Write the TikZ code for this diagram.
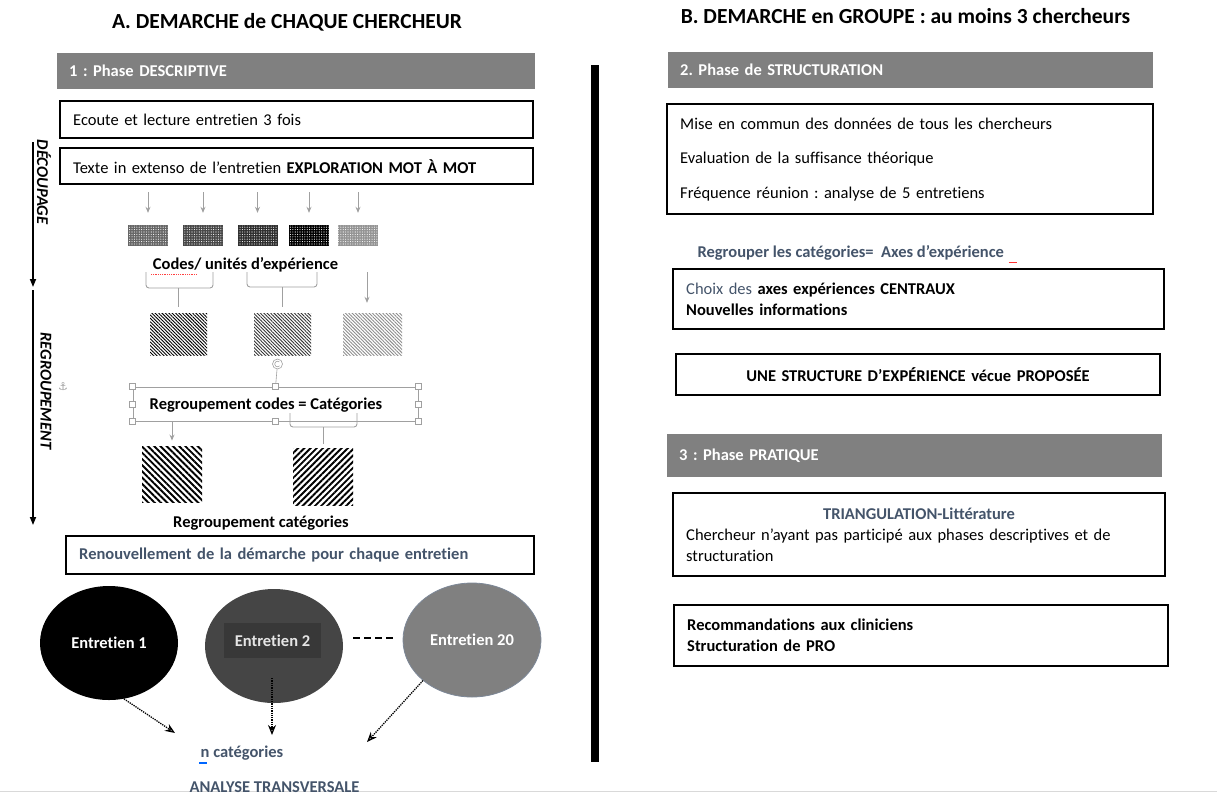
\documentclass[tikz,border=0pt]{standalone}
\usepackage{fontspec}
\setmainfont{Carlito}[Ligatures=NoCommon]
\newfontfamily\symfont{DejaVu Sans}
\usetikzlibrary{arrows.meta, shapes.geometric, positioning, patterns.meta}
\frenchspacing

\definecolor{phasegray}{HTML}{808080}
\definecolor{slate}{HTML}{44546A}
\definecolor{guidegray}{HTML}{A0A0A0}

\newcommand{\bodysize}{\fontsize{16.5}{21}\selectfont}
\newcommand{\titlesize}{\fontsize{21.5}{26}\selectfont}

\tikzset{
  phasebar/.style={fill=phasegray, text=white, font=\bodysize\bfseries, anchor=north west, align=left, inner xsep=12pt, minimum height=36pt},
  textbox/.style={draw, line width=2.4pt, font=\bodysize, anchor=north west, align=left, inner xsep=13pt},
  codebox/.style={minimum width=40pt, minimum height=21pt, inner sep=0pt, postaction={pattern={Dots[distance=2.4pt, radius=0.55pt]}, pattern color=white}},
  finehatch/.style={minimum width=57pt, minimum height=42pt, inner sep=0pt, pattern={Lines[angle=-45, distance=2.4pt, line width=0.9pt]}},
  boldhatch/.style={minimum width=60pt, minimum height=56pt, inner sep=0pt, pattern={Lines[angle=#1, distance=4.4pt, line width=1.9pt]}},
  guide/.style={guidegray, line width=0.9pt, -{Stealth[length=6pt, width=5pt]}},
  bracket/.style={guidegray, line width=0.9pt, rounded corners=3pt},
  handle/.style={draw=guidegray, fill=white, line width=0.6pt, minimum size=6pt, inner sep=0pt},
  entretien/.style={ellipse, minimum width=138pt, minimum height=114pt, inner sep=0pt, text=white, font=\bodysize\bfseries},
  dotarrow/.style={densely dotted, line width=1.3pt, -{Stealth[open, length=10pt, width=8pt]}},
  sidearrow/.style={line width=1.6pt, -{Triangle[length=8pt, width=6pt]}},
  sidelabel/.style={rotate=-90, font=\bodysize\bfseries\itshape}
}

\begin{document}
\begin{tikzpicture}[x=1pt, y=-1pt]
\useasboundingbox (0,0) rectangle (1217,796);
\draw[black!15, line width=1pt] (0,791) -- (1217,791);

\node[font=\titlesize\bfseries] (titleA) at (287,22) {A. DEMARCHE de CHAQUE CHERCHEUR};
\node[font=\titlesize\bfseries] (titleB) at (905.5,16) {B. DEMARCHE en GROUPE : au moins 3 chercheurs};

\draw[line width=8pt] (595,65) -- (595,762);

\node[phasebar, text width=454pt] (phase1) at (57,53) {1 : Phase DESCRIPTIVE};
\node[textbox, text width=447pt, minimum height=37pt] (ecoute) at (59,100) {Ecoute et lecture entretien 3 fois};
\node[textbox, text width=447pt, minimum height=36pt] (texte) at (59,147) {Texte in extenso de l’entretien \textbf{EXPLORATION MOT À MOT}};

\coordinate (dtop) at (33,142);
\coordinate (dbot) at (33,287);
\coordinate (rtop) at (33,290);
\coordinate (rbot) at (33,525);
\draw[sidearrow] (dtop) -- (dbot);
\draw[sidearrow] (rtop) -- (rbot);
\node[sidelabel] (decoupage) at (44,182) {DÉCOUPAGE};
\node[sidelabel] (regroupement) at (46,391) {REGROUPEMENT};
\node[text=guidegray, font=\symfont\fontsize{11}{11}\selectfont] (anc) at (63,387) {⚓};

\node[codebox, fill=black!60] (c1) at (148,235.5) {};
\node[codebox, fill=black!72] (c2) at (203,235.5) {};
\node[codebox, fill=black!82] (c3) at (257.5,235.5) {};
\node[codebox, fill=black] (c4) at (309,235.5) {};
\node[codebox, fill=black!42] (c5) at (358,235.5) {};
\foreach \i in {1,...,5}
  \draw[guide, shorten <=7pt, shorten >=12pt] (texte.south -| c\i) -- (c\i.north);

\node[font=\bodysize\bfseries] (codes) at (245.5,265) {Codes/ unités d’expérience};
\draw[red!75, densely dotted, line width=0.8pt] (151,274) -- (197,274);

\node[finehatch, pattern color=black] (h1) at (178.5,334) {};
\node[finehatch, pattern color=black!80] (h2) at (282.5,334) {};
\node[finehatch, minimum width=59pt, pattern color=black!45] (h3) at (372.5,334) {};

\draw[bracket] (146,272) |- (213,288) -- (213,272);
\draw[bracket] (247,272) |- (317,287) -- (317,272);
\coordinate (b1) at (178.5,288);
\coordinate (b2) at (282.5,287);
\coordinate (a3) at (367,272);
\draw[bracket, shorten >=6pt] (b1) -- (h1.north);
\draw[bracket, shorten >=6pt] (b2) -- (h2.north);
\draw[guide, shorten >=10pt] (a3) -- (a3 |- h3.north);

\node[draw=guidegray, line width=0.6pt, minimum width=285pt, minimum height=34pt, inner sep=0pt] (sel) at (275.5,404) {};
\node[draw=guidegray, circle, line width=0.6pt, minimum size=10pt, inner sep=0pt] (rot) at (277.5,364) {};
\draw[guidegray, line width=0.6pt] (rot.center) ++(50:2.8pt) arc (50:320:2.8pt);
\draw[guidegray, line width=0.6pt] (rot) -- (sel.north);
\foreach \a in {north west, north, north east, west, east, south west, south, south east}
  \node[handle] at (sel.\a) {};
\node[font=\bodysize\bfseries] (regcodes) at (266,405) {Regroupement codes = Catégories};

\node[boldhatch=-45] (h4) at (172,474.5) {};
\node[boldhatch=45, minimum height=57pt] (h5) at (323,476.5) {};
\draw[guide, shorten >=5pt] (sel.south -| h4) -- (h4.north);
\draw[bracket] (290,413) |- (357,427) -- (357,413);
\coordinate (b3) at (323,427);
\draw[bracket, shorten >=3pt] (b3) -- (h5.north);

\node[font=\bodysize\bfseries] (regcat) at (261,523) {Regroupement catégories};
\node[textbox, text width=442pt, minimum height=38pt, text=slate, font=\bodysize\bfseries] (renouv) at (65,535) {Renouvellement de la démarche pour chaque entretien};

\node[entretien, fill=black] (e1) at (109,643) {Entretien 1};
\node[entretien, fill=black!73] (e2) at (274,646) {};
\node[fill=black!78, text=black!10, font=\bodysize\bfseries, minimum width=97pt, minimum height=35pt] (e2label) at (272.5,640.5) {Entretien 2};
\node[entretien, fill=phasegray, draw=slate!70, line width=0.8pt] (e20) at (472,640) {Entretien 20};
\draw[line width=1.5pt, dash pattern=on 7pt off 4pt, shorten <=10pt, shorten >=6pt] ([yshift=8pt]e2.east) -- ([yshift=2pt]e20.west);

\coordinate (n1) at (175,733);
\coordinate (n2) at (272,735);
\coordinate (n3) at (367,742);
\draw[dotarrow] (e1.-75) -- (n1);
\draw[dotarrow, shorten <=32pt] (e2.center -| n2) -- (n2);
\draw[dotarrow] (e20.south west) -- (n3);

\node[font=\bodysize\bfseries, text=slate] (ncat) at (242,753) {n catégories};
\draw[blue!60!cyan, line width=1.3pt] (199,763) -- (207,763);
\node[font=\bodysize\bfseries, text=slate] (analyse) at (274.5,787) {ANALYSE TRANSVERSALE};

\node[phasebar, text width=461pt] (phase2) at (668,52) {2. Phase de STRUCTURATION};
\node[textbox, text width=459.6pt, minimum height=110pt] (mise) at (666,103) {Mise en commun des données de tous les chercheurs\\[13.5pt] Evaluation de la suffisance théorique\\[13.5pt] Fréquence réunion : analyse de 5 entretiens};
\node[anchor=west, font=\bodysize\bfseries, text=slate] (regrouper) at (694,253) {Regrouper les catégories= \ Axes d’expérience};
\draw[red!80, line width=1pt] ([xshift=1pt, yshift=1pt]regrouper.south east) -- ++(8,0);
\node[textbox, text width=464.6pt, minimum height=60pt, font=\bodysize\bfseries] (choix) at (672,268) {{\mdseries\color{slate}Choix des} axes expériences CENTRAUX\\ Nouvelles informations};
\node[textbox, text width=457.6pt, minimum height=41pt, align=center, font=\bodysize\bfseries] (structure) at (675,353) {UNE STRUCTURE D’EXPÉRIENCE vécue PROPOSÉE};

\node[phasebar, text width=471pt, minimum height=43pt] (phase3) at (667,434) {3 : Phase PRATIQUE};
\node[textbox, text width=465.6pt, minimum height=83pt] (triang) at (672,492) {\hspace*{\fill}{\bfseries\color{slate}TRIANGULATION-Littérature}\hspace*{\fill}\null\\ Chercheur n’ayant pas participé aux phases descriptives et de\\ structuration};
\node[textbox, text width=467.6pt, minimum height=61pt, font=\bodysize\bfseries] (reco) at (673,604) {Recommandations aux cliniciens\\ Structuration de PRO};
\end{tikzpicture}
\end{document}
